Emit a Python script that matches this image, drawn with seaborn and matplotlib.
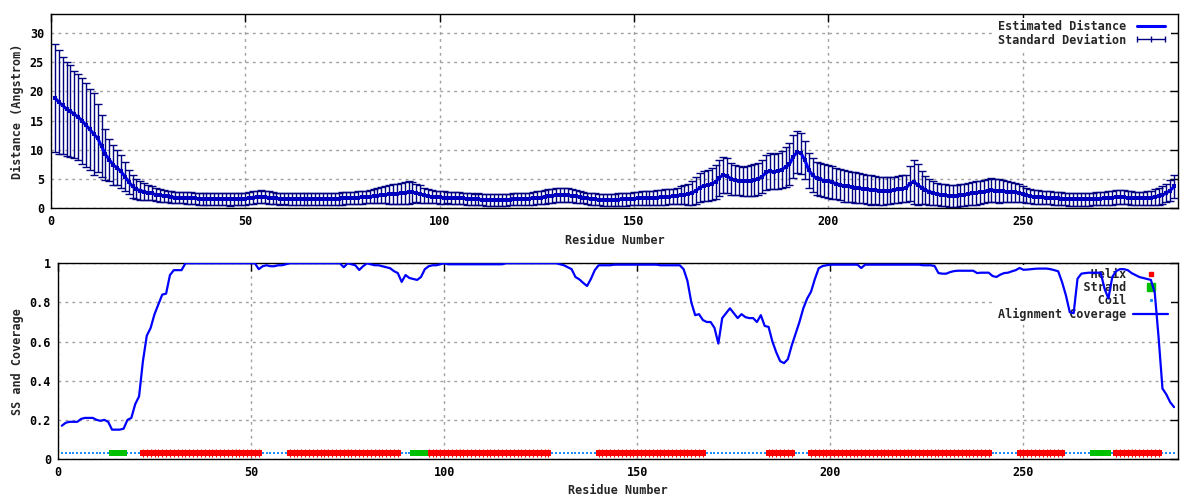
import matplotlib
matplotlib.use("Agg")
import matplotlib.pyplot as plt
from matplotlib.lines import Line2D
import pandas as pd
import seaborn as sns

# residue numbers 1..289
residues = list(range(1, 290))

# estimated distance (Angstrom), one value per residue
mean_dist = [
    18.9, 18.2, 17.6, 17.0, 16.6, 16.1, 15.6, 15.0, 14.2, 13.5,
    12.7, 12.0, 10.6, 9.2, 8.3, 7.4, 6.9, 6.3, 5.4, 4.5,
    3.7, 3.2, 3.0, 2.8, 2.6, 2.5, 2.3, 2.2, 2.1, 2.0,
    1.9, 1.8, 1.8, 1.75, 1.7, 1.7, 1.65, 1.6, 1.55, 1.55,
    1.5, 1.5, 1.5, 1.5, 1.5, 1.5, 1.5, 1.55, 1.55, 1.6,
    1.7, 1.8, 1.9, 1.95, 1.9, 1.8, 1.7, 1.65, 1.6, 1.6,
    1.55, 1.55, 1.55, 1.6, 1.6, 1.6, 1.6, 1.6, 1.6, 1.6,
    1.6, 1.6, 1.55, 1.6, 1.65, 1.7, 1.7, 1.75, 1.8, 1.85,
    1.9, 1.95, 2.0, 2.1, 2.2, 2.3, 2.35, 2.4, 2.45, 2.5,
    2.6, 2.7, 2.7, 2.6, 2.4, 2.2, 2.0, 1.95, 1.9, 1.85,
    1.8, 1.8, 1.75, 1.7, 1.7, 1.65, 1.6, 1.55, 1.5, 1.5,
    1.45, 1.4, 1.4, 1.4, 1.4, 1.4, 1.4, 1.45, 1.5, 1.5,
    1.55, 1.55, 1.6, 1.7, 1.75, 1.8, 1.9, 2.0, 2.1, 2.2,
    2.2, 2.2, 2.2, 2.1, 2.0, 1.9, 1.8, 1.65, 1.55, 1.5,
    1.45, 1.4, 1.4, 1.4, 1.4, 1.45, 1.5, 1.5, 1.55, 1.6,
    1.65, 1.7, 1.7, 1.75, 1.8, 1.8, 1.85, 1.9, 1.95, 2.0,
    2.1, 2.2, 2.3, 2.4, 2.6, 3.0, 3.5, 3.8, 3.9, 4.1,
    4.5, 5.2, 5.7, 5.5, 5.0, 4.8, 4.7, 4.6, 4.6, 4.7,
    4.8, 5.0, 5.4, 6.1, 6.3, 6.2, 6.4, 6.6, 7.0, 7.5,
    8.8, 9.6, 9.4, 8.2, 6.5, 5.6, 5.1, 4.9, 4.7, 4.6,
    4.4, 4.2, 4.0, 3.8, 3.7, 3.6, 3.5, 3.4, 3.3, 3.2,
    3.1, 3.1, 3.0, 3.0, 3.0, 3.0, 3.1, 3.2, 3.3, 3.4,
    4.2, 4.5, 4.0, 3.5, 3.1, 2.8, 2.6, 2.4, 2.3, 2.2,
    2.1, 2.1, 2.1, 2.2, 2.3, 2.4, 2.5, 2.6, 2.7, 2.8,
    3.0, 3.1, 3.0, 2.9, 2.9, 2.8, 2.8, 2.7, 2.6, 2.4,
    2.2, 2.0, 1.95, 1.9, 1.85, 1.8, 1.75, 1.7, 1.65, 1.6,
    1.55, 1.5, 1.5, 1.5, 1.5, 1.5, 1.5, 1.55, 1.6, 1.6,
    1.65, 1.7, 1.8, 1.85, 1.85, 1.85, 1.8, 1.75, 1.7, 1.65,
    1.7, 1.75, 1.8, 1.9, 2.0, 2.2, 2.6, 3.0, 3.7,
]

# standard deviation of the distance
sd_dist = [
    9.3, 8.9, 8.4, 8.0, 7.9, 7.5, 7.4, 7.4, 7.2, 7.0,
    7.0, 5.8, 5.3, 4.4, 3.6, 3.4, 3.0, 2.8, 2.5, 2.1,
    2.0, 1.7, 1.6, 1.45, 1.3, 1.2, 1.1, 1.1, 1.05, 1.0,
    1.0, 1.0, 0.95, 0.95, 1.0, 1.0, 1.0, 1.05, 1.0, 1.0,
    1.0, 1.05, 1.0, 1.0, 1.05, 1.1, 1.0, 1.0, 1.0, 1.05,
    1.05, 1.1, 1.1, 1.15, 1.1, 1.1, 1.0, 1.0, 1.0, 0.95,
    0.95, 1.0, 1.0, 1.0, 1.05, 1.0, 1.0, 1.0, 1.0, 1.0,
    1.0, 1.0, 1.0, 1.05, 1.05, 1.05, 1.0, 1.0, 1.05, 1.1,
    1.1, 1.15, 1.2, 1.3, 1.4, 1.5, 1.6, 1.7, 1.7, 1.8,
    1.9, 2.0, 1.8, 1.6, 1.5, 1.3, 1.2, 1.15, 1.1, 1.1,
    1.05, 1.0, 1.0, 1.0, 1.0, 1.0, 1.0, 0.95, 0.95, 1.0,
    1.0, 1.0, 1.0, 1.0, 1.0, 1.0, 1.0, 1.0, 1.0, 1.0,
    1.0, 1.05, 1.05, 1.1, 1.1, 1.15, 1.2, 1.2, 1.2, 1.2,
    1.2, 1.2, 1.15, 1.1, 1.1, 1.05, 1.0, 1.0, 1.0, 1.0,
    1.0, 1.0, 1.0, 1.0, 1.05, 1.05, 1.1, 1.1, 1.1, 1.15,
    1.15, 1.2, 1.2, 1.2, 1.2, 1.25, 1.25, 1.3, 1.3, 1.3,
    1.4, 1.5, 1.6, 1.8, 2.0, 2.3, 2.5, 2.6, 2.7, 2.8,
    2.9, 3.1, 3.1, 3.0, 2.8, 2.6, 2.5, 2.5, 2.6, 2.6,
    2.7, 2.8, 2.9, 3.0, 3.1, 3.0, 3.1, 3.2, 3.4, 3.6,
    3.7, 3.6, 3.5, 3.3, 3.0, 2.9, 2.8, 2.8, 2.8, 2.8,
    2.8, 2.7, 2.7, 2.7, 2.6, 2.6, 2.6, 2.6, 2.5, 2.5,
    2.5, 2.4, 2.4, 2.4, 2.3, 2.3, 2.3, 2.3, 2.3, 2.3,
    3.0, 3.8, 3.5, 2.8, 2.4, 2.2, 2.0, 1.9, 1.9, 1.9,
    1.9, 1.9, 1.9, 1.9, 1.9, 1.95, 1.95, 2.0, 2.0, 2.0,
    2.0, 2.05, 2.0, 2.0, 1.9, 1.8, 1.7, 1.6, 1.5, 1.4,
    1.3, 1.2, 1.2, 1.15, 1.15, 1.1, 1.1, 1.1, 1.1, 1.1,
    1.1, 1.1, 1.1, 1.1, 1.1, 1.1, 1.1, 1.1, 1.1, 1.15,
    1.15, 1.2, 1.2, 1.2, 1.2, 1.2, 1.15, 1.15, 1.1, 1.1,
    1.1, 1.15, 1.2, 1.3, 1.4, 1.5, 1.6, 1.8, 2.0,
]

# alignment coverage per residue
coverage = [
    0.17, 0.185, 0.19, 0.19, 0.19, 0.205, 0.21, 0.21, 0.21, 0.20,
    0.195, 0.20, 0.19, 0.15, 0.15, 0.15, 0.155, 0.20, 0.21, 0.28,
    0.32, 0.50, 0.63, 0.67, 0.74, 0.79, 0.84, 0.845, 0.94, 0.965,
    0.965, 0.965, 1.0, 1.0, 1.0, 1.0, 1.0, 1.0, 1.0, 1.0,
    1.0, 1.0, 1.0, 1.0, 1.0, 1.0, 1.0, 1.0, 1.0, 1.0,
    1.0, 0.97, 0.985, 0.99, 0.985, 0.985, 0.99, 0.99, 0.995, 1.0,
    1.0, 1.0, 1.0, 1.0, 1.0, 1.0, 1.0, 1.0, 1.0, 1.0,
    1.0, 1.0, 1.0, 0.98, 1.0, 0.995, 0.99, 0.966, 0.985, 1.0,
    0.995, 0.99, 0.99, 0.985, 0.98, 0.975, 0.96, 0.95, 0.905, 0.94,
    0.925, 0.92, 0.915, 0.93, 0.97, 0.985, 0.99, 0.99, 0.995, 1.0,
    0.995, 0.995, 0.995, 0.995, 0.995, 0.995, 0.995, 0.995, 0.995, 0.995,
    0.995, 0.995, 0.995, 0.995, 0.995, 1.0, 1.0, 1.0, 1.0, 1.0,
    1.0, 1.0, 1.0, 1.0, 1.0, 1.0, 1.0, 1.0, 1.0, 0.995,
    0.99, 0.98, 0.97, 0.93, 0.918, 0.90, 0.884, 0.92, 0.965, 0.99,
    0.99, 0.99, 0.99, 0.993, 0.993, 0.993, 0.993, 0.993, 0.993, 0.993,
    0.993, 0.993, 0.993, 0.993, 0.993, 0.99, 0.99, 0.99, 0.99, 0.99,
    0.99, 0.97, 0.91, 0.80, 0.735, 0.74, 0.71, 0.70, 0.70, 0.67,
    0.59, 0.72, 0.745, 0.77, 0.745, 0.72, 0.74, 0.725, 0.72, 0.72,
    0.70, 0.735, 0.68, 0.675, 0.60, 0.545, 0.50, 0.49, 0.51, 0.58,
    0.64, 0.70, 0.77, 0.82, 0.855, 0.92, 0.975, 0.986, 0.99, 0.993,
    0.993, 0.993, 0.993, 0.993, 0.993, 0.993, 0.993, 0.976, 0.993, 0.993,
    0.993, 0.993, 0.993, 0.993, 0.993, 0.993, 0.993, 0.993, 0.993, 0.993,
    0.993, 0.993, 0.993, 0.99, 0.99, 0.99, 0.986, 0.95, 0.947, 0.947,
    0.955, 0.96, 0.962, 0.962, 0.962, 0.962, 0.962, 0.95, 0.952, 0.952,
    0.952, 0.935, 0.93, 0.942, 0.95, 0.952, 0.959, 0.965, 0.976, 0.967,
    0.968, 0.97, 0.972, 0.973, 0.973, 0.973, 0.97, 0.965, 0.959, 0.904,
    0.836, 0.75, 0.745, 0.921, 0.947, 0.95, 0.952, 0.952, 0.952, 0.952,
    0.87, 0.82, 0.93, 0.96, 0.97, 0.97, 0.965, 0.95, 0.94, 0.93,
    0.925, 0.92, 0.915, 0.85, 0.62, 0.36, 0.33, 0.29, 0.265,
]

# secondary structure: (type, first residue, last residue)
ss_segments = [
    ("C", 1, 13), ("E", 14, 17), ("C", 18, 21), ("H", 22, 52),
    ("C", 53, 59), ("H", 60, 88), ("C", 89, 91), ("E", 92, 95),
    ("H", 96, 127), ("C", 128, 139), ("H", 140, 167), ("C", 168, 183),
    ("H", 184, 190), ("C", 191, 194), ("H", 195, 241), ("C", 242, 248),
    ("H", 249, 260), ("C", 261, 267), ("E", 268, 272), ("C", 273, 273),
    ("H", 274, 285), ("C", 286, 289),
]
ss_level = 0.03

dist_ticks = [0, 5, 10, 15, 20, 25, 30]
cov_ticks = [0, 0.2, 0.4, 0.6, 0.8, 1.0]
cov_tick_labels = ["0", "0.2", "0.4", "0.6", "0.8", "1"]
res_ticks = [0, 50, 100, 150, 200, 250]

dist_df = pd.DataFrame({"residue": residues, "mean": mean_dist, "sd": sd_dist})
cov_df = pd.DataFrame({"residue": residues, "coverage": coverage})
ss_rows = []
for kind, start, end in ss_segments:
    for r in range(start, end + 1):
        ss_rows.append({"residue": r, "ss": kind, "level": ss_level})
ss_df = pd.DataFrame(ss_rows)

sns.set_style("white")
plt.rcParams["font.family"] = ["DejaVu Sans Mono"]
plt.rcParams["font.weight"] = "bold"
plt.rcParams["font.size"] = 8.5
plt.rcParams["axes.labelweight"] = "bold"

BLUE = "#0000ff"
NAVY = "#000080"
RED = "#ff0000"
GREEN = "#00c000"
COIL = "#1e90ff"
GRID = "#a0a0a0"

fig = plt.figure(figsize=(12, 5), dpi=100)
ax1 = fig.add_axes([0.0425, 0.584, 0.9392, 0.388])
ax2 = fig.add_axes([0.0483, 0.082, 0.9333, 0.3914])


def style_axes(ax):
    ax.set_axisbelow(True)
    ax.grid(True, color=GRID, linestyle=(0, (2, 3)), linewidth=1)
    ax.tick_params(direction="in", length=6, width=1, top=True, right=True,
                   pad=5, colors="black")
    for sp in ax.spines.values():
        sp.set_color("black")
        sp.set_linewidth(1)


# -----------------------------
# top: estimated distance with standard deviation
# -----------------------------
ax1.errorbar(dist_df["residue"], dist_df["mean"], yerr=dist_df["sd"], fmt="none",
             ecolor=NAVY, elinewidth=1, capsize=2.9, capthick=1, zorder=2)
sns.lineplot(data=dist_df, x="residue", y="mean", ax=ax1, color=BLUE, linewidth=2.2,
             marker="s", markersize=2.5, markerfacecolor="#0000c0", markeredgewidth=0,
             legend=False, zorder=3)
ax1.set_xlim(0, 290)
ax1.set_ylim(0, 33.3)
ax1.set_xticks(res_ticks)
ax1.set_yticks(dist_ticks)
ax1.set_xlabel("Residue Number")
ax1.set_ylabel("Distance (Angstrom)")
style_axes(ax1)

h1 = [Line2D([], [], color=BLUE, linewidth=2.2),
      Line2D([], [], color=NAVY, linewidth=1, marker="|", markersize=5, markeredgewidth=1)]
leg1 = ax1.legend(h1, ["Estimated Distance", "Standard Deviation"], loc="upper right",
                  bbox_to_anchor=(1.0, 1.016),
                  markerfirst=False, numpoints=3, frameon=True, facecolor="white",
                  edgecolor="none", framealpha=1, fancybox=False, borderpad=0.2,
                  borderaxespad=0.6, handlelength=3, handletextpad=0.6, labelspacing=0.02)
leg1.set_zorder(1.5)

# -----------------------------
# bottom: secondary structure and alignment coverage
# -----------------------------
coil_df = ss_df[ss_df["ss"] == "C"]
helix_df = ss_df[ss_df["ss"] == "H"]
strand_df = ss_df[ss_df["ss"] == "E"]

sns.scatterplot(data=coil_df, x="residue", y="level", ax=ax2, marker="s", s=1.5,
                color=COIL, linewidth=0, legend=False, zorder=2)
sns.scatterplot(data=helix_df, x="residue", y="level", ax=ax2, marker="s", s=19,
                color=RED, linewidth=0, legend=False, zorder=2)
sns.scatterplot(data=helix_df, x="residue", y="level", ax=ax2, marker="|", s=34,
                color=RED, linewidth=0.8, legend=False, zorder=2)
sns.scatterplot(data=strand_df, x="residue", y="level", ax=ax2, marker="s", s=21,
                color=GREEN, linewidth=0, legend=False, zorder=2)
sns.lineplot(data=cov_df, x="residue", y="coverage", ax=ax2, color=BLUE, linewidth=1.6,
             legend=False, zorder=3)
ax2.set_xlim(0, 290)
ax2.set_ylim(0, 1)
ax2.set_xticks(res_ticks)
ax2.set_yticks(cov_ticks)
ax2.set_yticklabels(cov_tick_labels)
ax2.set_xlabel("Residue Number")
ax2.set_ylabel("SS and Coverage")
style_axes(ax2)

labels2 = ["Helix", "Strand", "Coil", "Alignment Coverage"]
width = max(len(s) for s in labels2)
h2 = [Line2D([], [], linestyle="none", marker="s", markersize=3.5, color=RED),
      Line2D([], [], linestyle="none", marker="s", markersize=5.5, color=GREEN),
      Line2D([], [], linestyle="none", marker="s", markersize=1.2, color=COIL),
      Line2D([], [], color=BLUE, linewidth=1.6)]
leg2 = ax2.legend(h2, [s.rjust(width) for s in labels2], loc="upper right",
                  bbox_to_anchor=(1.0, 1.025),
                  markerfirst=False, numpoints=1, frameon=True, facecolor="white",
                  edgecolor="none", framealpha=1, fancybox=False, borderpad=0.2,
                  borderaxespad=0.6, handlelength=3, handletextpad=0.6, labelspacing=0.02)
leg2.set_zorder(1.5)

fig.savefig("out.png", dpi=100)
